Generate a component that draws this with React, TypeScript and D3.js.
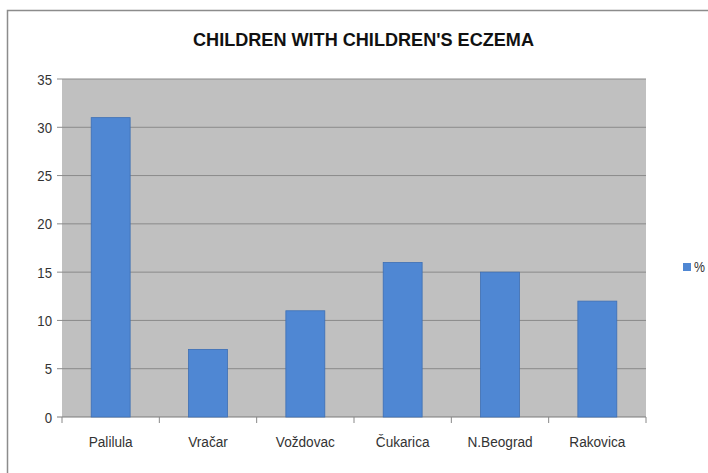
import React from "react";
import * as d3 from "d3";

const categories = ["Palilula", "Vračar", "Voždovac", "Čukarica", "N.Beograd", "Rakovica"];
const values = [31, 7, 11, 16, 15, 12];
const yTicks = [0, 5, 10, 15, 20, 25, 30, 35];
const title = "CHILDREN WITH CHILDREN'S ECZEMA";
const seriesName = "%";

export default function App() {
  const W = 708, H = 473;
  const left = 62, right = 646, top = 79, bottom = 417;
  const x = d3.scaleBand<string>().domain(categories).range([left, right]).padding(0);
  const y = d3.scaleLinear().domain([0, 35]).range([bottom, top]);
  const bw = x.bandwidth() * 0.4;
  const font = "'Liberation Sans', Arial, sans-serif";
  const barColor = "#4f87d3";
  const sx = 0.88;
  return (
    <svg width={W} height={H} style={{ position: "absolute", left: 0, top: 0, background: "#fff" }}>
      <rect x={7.5} y={10.5} width={720} height={470} fill="#fff" stroke="#8c8c8c" strokeWidth={1.5} />
      <text x={193} y={46} textLength={341} lengthAdjust="spacingAndGlyphs" fontFamily={font}
        fontWeight="bold" fontSize={19} fill="#111">{title}</text>
      <rect x={left} y={top} width={right - left} height={bottom - top} fill="#c0c0c0" />
      {yTicks.map((t) => (
        <g key={t}>
          <line x1={left - 5} x2={right} y1={y(t)} y2={y(t)} stroke={t === 0 ? "#7a7a7a" : "#8a8a8a"} strokeWidth={1} />
          <text transform={`translate(52,${y(t) + 5.5}) scale(${sx},1)`} textAnchor="end" fontFamily={font}
            fontSize={15} fill="#333">{t}</text>
        </g>
      ))}
      {categories.map((c, i) => (
        <rect key={c} x={x(c)! + (x.bandwidth() - bw) / 2} y={y(values[i])} width={bw}
          height={bottom - y(values[i])} fill={barColor} stroke="#3d6fb5" strokeWidth={0.8} />
      ))}
      {categories.map((c) => (
        <line key={"t" + c} x1={x(c)!} x2={x(c)!} y1={bottom} y2={bottom + 6} stroke="#888" />
      ))}
      <line x1={right} x2={right} y1={bottom} y2={bottom + 6} stroke="#888" />
      {categories.map((c) => (
        <text key={"l" + c} transform={`translate(${x(c)! + x.bandwidth() / 2},447) scale(${sx},1)`}
          textAnchor="middle" fontFamily={font} fontSize={15.5} fill="#333">{c}</text>
      ))}
      <rect x={683} y={263} width={8} height={8} fill={barColor} />
      <text transform={`translate(694,272) scale(${sx},1)`} fontFamily={font} fontSize={14} fill="#333">{seriesName}</text>
    </svg>
  );
}
